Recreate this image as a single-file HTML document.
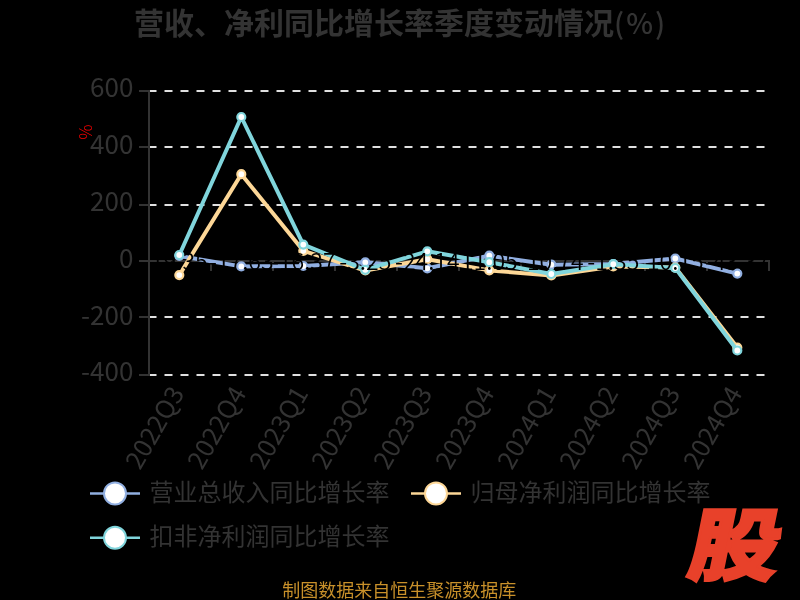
<!DOCTYPE html>
<html><head><meta charset="utf-8"><style>
html,body{margin:0;padding:0;background:#000;width:800px;height:600px;overflow:hidden}
svg{position:absolute;left:0;top:0}
.t{font-family:"Noto Sans CJK SC",sans-serif;font-weight:bold;font-size:30px;fill:#333}
.tp{font-family:"Noto Sans CJK SC Medium","Noto Sans CJK SC",sans-serif;font-weight:normal;font-size:28.5px;letter-spacing:2px}
.yl{font-family:"Noto Sans CJK SC",sans-serif;font-size:26px;fill:#333;text-anchor:end;dominant-baseline:central}
.xl{font-family:"Noto Sans CJK SC",sans-serif;font-size:25.5px;fill:#333;text-anchor:end;dominant-baseline:central}
.lg{font-family:"Noto Sans CJK SC",sans-serif;font-size:24px;fill:#333;dominant-baseline:central}
.dl{font-family:"Noto Sans CJK SC DemiLight","Noto Sans CJK SC",sans-serif;font-size:23px;fill:#000;text-anchor:middle;dominant-baseline:central}
.ft{font-family:"Noto Sans CJK SC",sans-serif;font-size:18px;fill:#c8902a;text-anchor:middle}
.pc{font-family:"Noto Sans CJK SC Light","Noto Sans CJK SC",sans-serif;font-size:17px;fill:#f00}
.logo{font-family:"Noto Sans CJK SC",sans-serif;font-weight:900;font-size:80px;fill:#e8412a;stroke:#e8412a;stroke-width:2.6;stroke-linejoin:miter}
</style></head><body>
<svg width="800" height="600" viewBox="0 0 800 600">
<text x="134" y="33.6" class="t">营收、净利同比增长率季度变动情况<tspan class="tp">(%)</tspan></text>
<text class="pc" transform="translate(86,132) rotate(90)" text-anchor="middle" dominant-baseline="central">%</text>
<line x1="148.5" y1="91" x2="768.5" y2="91" stroke="#e0e0e0" stroke-width="2" stroke-dasharray="8 8"/>
<line x1="148.5" y1="147" x2="768.5" y2="147" stroke="#e0e0e0" stroke-width="2" stroke-dasharray="8 8"/>
<line x1="148.5" y1="205" x2="768.5" y2="205" stroke="#e0e0e0" stroke-width="2" stroke-dasharray="8 8"/>
<line x1="148.5" y1="317" x2="768.5" y2="317" stroke="#e0e0e0" stroke-width="2" stroke-dasharray="8 8"/>
<line x1="148.5" y1="375" x2="768.5" y2="375" stroke="#e0e0e0" stroke-width="2" stroke-dasharray="8 8"/>
<line x1="149" y1="90" x2="149" y2="376" stroke="#333" stroke-width="2"/>
<line x1="139" y1="91" x2="149" y2="91" stroke="#333" stroke-width="2"/>
<text x="133.4" y="85.2" class="yl">600</text>
<line x1="139" y1="147" x2="149" y2="147" stroke="#333" stroke-width="2"/>
<text x="133.4" y="142.2" class="yl">400</text>
<line x1="139" y1="205" x2="149" y2="205" stroke="#333" stroke-width="2"/>
<text x="133.4" y="199.0" class="yl">200</text>
<line x1="139" y1="261" x2="149" y2="261" stroke="#333" stroke-width="2"/>
<text x="133.4" y="256.5" class="yl">0</text>
<line x1="139" y1="317" x2="149" y2="317" stroke="#333" stroke-width="2"/>
<text x="133.4" y="313.3" class="yl">-200</text>
<line x1="139" y1="375" x2="149" y2="375" stroke="#333" stroke-width="2"/>
<text x="133.4" y="369.0" class="yl">-400</text>
<line x1="148" y1="261" x2="770" y2="261" stroke="#333" stroke-width="2"/>
<line x1="149" y1="261" x2="149" y2="271" stroke="#333" stroke-width="2"/>
<line x1="211" y1="261" x2="211" y2="271" stroke="#333" stroke-width="2"/>
<line x1="273" y1="261" x2="273" y2="271" stroke="#333" stroke-width="2"/>
<line x1="335" y1="261" x2="335" y2="271" stroke="#333" stroke-width="2"/>
<line x1="397" y1="261" x2="397" y2="271" stroke="#333" stroke-width="2"/>
<line x1="459" y1="261" x2="459" y2="271" stroke="#333" stroke-width="2"/>
<line x1="521" y1="261" x2="521" y2="271" stroke="#333" stroke-width="2"/>
<line x1="583" y1="261" x2="583" y2="271" stroke="#333" stroke-width="2"/>
<line x1="645" y1="261" x2="645" y2="271" stroke="#333" stroke-width="2"/>
<line x1="707" y1="261" x2="707" y2="271" stroke="#333" stroke-width="2"/>
<line x1="769" y1="261" x2="769" y2="271" stroke="#333" stroke-width="2"/>
<text class="xl" transform="translate(175.0,387.6) rotate(-60)">2022Q3</text>
<text class="xl" transform="translate(237.0,387.6) rotate(-60)">2022Q4</text>
<text class="xl" transform="translate(299.0,387.6) rotate(-60)">2023Q1</text>
<text class="xl" transform="translate(361.0,387.6) rotate(-60)">2023Q2</text>
<text class="xl" transform="translate(423.0,387.6) rotate(-60)">2023Q3</text>
<text class="xl" transform="translate(485.0,387.6) rotate(-60)">2023Q4</text>
<text class="xl" transform="translate(547.0,387.6) rotate(-60)">2024Q1</text>
<text class="xl" transform="translate(609.0,387.6) rotate(-60)">2024Q2</text>
<text class="xl" transform="translate(671.0,387.6) rotate(-60)">2024Q3</text>
<text class="xl" transform="translate(733.0,387.6) rotate(-60)">2024Q4</text>
<polyline points="179.3,256.0 241.3,266.4 303.3,266.0 365.3,262.3 427.3,268.3 489.3,255.7 551.3,264.7 613.3,264.0 675.3,258.5 737.3,273.6" fill="none" stroke="#91afe1" stroke-width="4" stroke-linejoin="round"/>
<circle cx="179.3" cy="256.0" r="4" fill="#fff" stroke="#91afe1" stroke-width="2.2"/>
<circle cx="241.3" cy="266.4" r="4" fill="#fff" stroke="#91afe1" stroke-width="2.2"/>
<circle cx="303.3" cy="266.0" r="4" fill="#fff" stroke="#91afe1" stroke-width="2.2"/>
<circle cx="365.3" cy="262.3" r="4" fill="#fff" stroke="#91afe1" stroke-width="2.2"/>
<circle cx="427.3" cy="268.3" r="4" fill="#fff" stroke="#91afe1" stroke-width="2.2"/>
<circle cx="489.3" cy="255.7" r="4" fill="#fff" stroke="#91afe1" stroke-width="2.2"/>
<circle cx="551.3" cy="264.7" r="4" fill="#fff" stroke="#91afe1" stroke-width="2.2"/>
<circle cx="613.3" cy="264.0" r="4" fill="#fff" stroke="#91afe1" stroke-width="2.2"/>
<circle cx="675.3" cy="258.5" r="4" fill="#fff" stroke="#91afe1" stroke-width="2.2"/>
<circle cx="737.3" cy="273.6" r="4" fill="#fff" stroke="#91afe1" stroke-width="2.2"/>
<polyline points="179.3,275.1 241.3,174.2 303.3,250.8 365.3,270.5 427.3,259.2 489.3,270.4 551.3,275.5 613.3,266.5 675.3,267.6 737.3,347.5" fill="none" stroke="#fdd797" stroke-width="4" stroke-linejoin="round"/>
<circle cx="179.3" cy="275.1" r="4" fill="#fff" stroke="#fdd797" stroke-width="2.2"/>
<circle cx="241.3" cy="174.2" r="4" fill="#fff" stroke="#fdd797" stroke-width="2.2"/>
<circle cx="303.3" cy="250.8" r="4" fill="#fff" stroke="#fdd797" stroke-width="2.2"/>
<circle cx="365.3" cy="270.5" r="4" fill="#fff" stroke="#fdd797" stroke-width="2.2"/>
<circle cx="427.3" cy="259.2" r="4" fill="#fff" stroke="#fdd797" stroke-width="2.2"/>
<circle cx="489.3" cy="270.4" r="4" fill="#fff" stroke="#fdd797" stroke-width="2.2"/>
<circle cx="551.3" cy="275.5" r="4" fill="#fff" stroke="#fdd797" stroke-width="2.2"/>
<circle cx="613.3" cy="266.5" r="4" fill="#fff" stroke="#fdd797" stroke-width="2.2"/>
<circle cx="675.3" cy="267.6" r="4" fill="#fff" stroke="#fdd797" stroke-width="2.2"/>
<circle cx="737.3" cy="347.5" r="4" fill="#fff" stroke="#fdd797" stroke-width="2.2"/>
<polyline points="179.3,255.0 241.3,117.0 303.3,244.6 365.3,269.8 427.3,251.3 489.3,262.2 551.3,274.0 613.3,264.2 675.3,268.0 737.3,350.5" fill="none" stroke="#80d5dc" stroke-width="4" stroke-linejoin="round"/>
<circle cx="179.3" cy="255.0" r="4" fill="#fff" stroke="#80d5dc" stroke-width="2.2"/>
<circle cx="241.3" cy="117.0" r="4" fill="#fff" stroke="#80d5dc" stroke-width="2.2"/>
<circle cx="303.3" cy="244.6" r="4" fill="#fff" stroke="#80d5dc" stroke-width="2.2"/>
<circle cx="365.3" cy="269.8" r="4" fill="#fff" stroke="#80d5dc" stroke-width="2.2"/>
<circle cx="427.3" cy="251.3" r="4" fill="#fff" stroke="#80d5dc" stroke-width="2.2"/>
<circle cx="489.3" cy="262.2" r="4" fill="#fff" stroke="#80d5dc" stroke-width="2.2"/>
<circle cx="551.3" cy="274.0" r="4" fill="#fff" stroke="#80d5dc" stroke-width="2.2"/>
<circle cx="613.3" cy="264.2" r="4" fill="#fff" stroke="#80d5dc" stroke-width="2.2"/>
<circle cx="675.3" cy="268.0" r="4" fill="#fff" stroke="#80d5dc" stroke-width="2.2"/>
<circle cx="737.3" cy="350.5" r="4" fill="#fff" stroke="#80d5dc" stroke-width="2.2"/>
<text x="179.3" y="260" class="dl">19.35</text>
<text x="241.3" y="260" class="dl">-17.63</text>
<text x="303.3" y="260" class="dl">-16.37</text>
<text x="365.3" y="260" class="dl">-3.25</text>
<text x="427.3" y="260" class="dl">-24.14</text>
<text x="489.3" y="260" class="dl">11.05</text>
<text x="551.3" y="260" class="dl">-10.74</text>
<text x="613.3" y="260" class="dl">-1.35</text>
<text x="675.3" y="260" class="dl">10.15</text>
<text x="737.3" y="260" class="dl">-43.37</text>
<line x1="90" y1="493.4" x2="140" y2="493.4" stroke="#91afe1" stroke-width="2.5"/>
<circle cx="115" cy="493.4" r="11" fill="#fff" stroke="#91afe1" stroke-width="2"/>
<text x="149.5" y="490.5" class="lg">营业总收入同比增长率</text>
<line x1="411" y1="493.4" x2="461" y2="493.4" stroke="#fdd797" stroke-width="2.5"/>
<circle cx="436" cy="493.4" r="11" fill="#fff" stroke="#fdd797" stroke-width="2"/>
<text x="470.5" y="490.5" class="lg">归母净利润同比增长率</text>
<line x1="90" y1="537.8" x2="140" y2="537.8" stroke="#80d5dc" stroke-width="2.5"/>
<circle cx="115" cy="537.8" r="11" fill="#fff" stroke="#80d5dc" stroke-width="2"/>
<text x="149.5" y="534.9" class="lg">扣非净利润同比增长率</text>
<text x="399.2" y="596.7" class="ft">制图数据来自恒生聚源数据库</text>
<text class="logo" transform="translate(730.4,574.2) scale(1.13,0.98) skewX(-10)" text-anchor="middle">股</text>
</svg>
</body></html>
